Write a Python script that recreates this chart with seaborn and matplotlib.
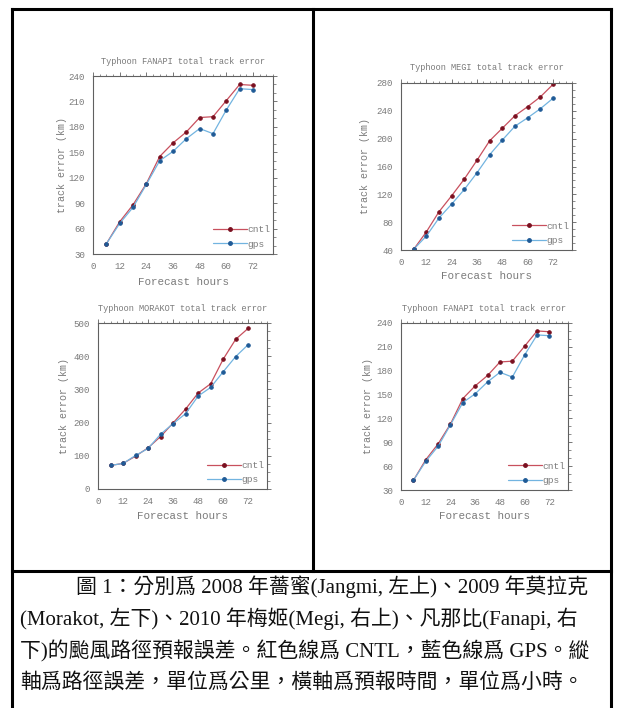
import matplotlib
matplotlib.use("Agg")
import matplotlib.pyplot as plt
import numpy as np
import pandas as pd
import seaborn as sns
from matplotlib.lines import Line2D
from matplotlib.ticker import MultipleLocator

# ---------------- data ----------------
hours = [6, 12, 18, 24, 30, 36, 42, 48, 54, 60, 66, 72]

fanapi_cntl = [42, 68, 88, 113, 145, 161, 174, 191, 192, 211, 230, 229]
fanapi_gps = [42, 66, 85, 112, 140, 151, 166, 178, 172, 200, 225, 224]

megi_cntl = [41, 66, 95, 118, 142, 169, 197, 215, 233, 246, 260, 278]
megi_gps = [41, 60, 86, 106, 127, 151, 177, 198, 218, 230, 243, 258]

morakot_cntl = [71, 77, 99, 124, 158, 199, 241, 289, 317, 391, 451, 484]
morakot_gps = [71, 77, 101, 122, 165, 197, 227, 280, 306, 353, 399, 435]

series_names = ["cntl", "gps"]
x_ticks = [0, 12, 24, 36, 48, 60, 72]

title_fanapi = "Typhoon FANAPI total track error"
title_megi = "Typhoon MEGI total track error"
title_morakot = "Typhoon MORAKOT total track error"
xlabel_text = "Forecast hours"
ylabel_text = "track error (km)"

caption_lines = [
    "圖 1：分別爲 2008 年薔蜜(Jangmi, 左上)、2009 年莫拉克",
    "(Morakot, 左下)、2010 年梅姬(Megi, 右上)、凡那比(Fanapi, 右",
    "下)的颱風路徑預報誤差。紅色線爲 CNTL，藍色線爲 GPS。縱",
    "軸爲路徑誤差，單位爲公里，橫軸爲預報時間，單位爲小時。",
]

# ---------------- style ----------------
sns.set_theme(style="white")
plt.rcParams["font.family"] = ["Liberation Mono", "DejaVu Sans"]

W, H = 617, 708
fig = plt.figure(figsize=(W / 100, H / 100), dpi=100)

line_colors = {"cntl": "#c8505e", "gps": "#72b4e0"}
marker_colors = {"cntl": "#7a1020", "gps": "#1f5a96"}
text_grey = "#7a7a7a"
spine_grey = "#606060"
MS = 2.5


def px_axes(l, t, r, b):
    return fig.add_axes([l / W, 1 - b / H, (r - l) / W, (b - t) / H])


def panel(ax, cntl, gps, title, ylim, ystep, yminor, title_y, xlab_y, ylab_x, leg_anchor):
    df = pd.DataFrame({
        "hour": hours * 2,
        "err": list(cntl) + list(gps),
        "run": ["cntl"] * len(hours) + ["gps"] * len(hours),
    })
    sns.lineplot(data=df, x="hour", y="err", hue="run", palette=line_colors,
                 marker="o", markersize=MS, linewidth=0.9, ax=ax, legend=False)
    for ln, name in zip(ax.lines, series_names):
        ln.set_markerfacecolor(marker_colors[name])
        ln.set_markeredgecolor(marker_colors[name])
    ax.set_xlim(0, 81)
    ax.set_ylim(*ylim)
    ax.set_xticks(x_ticks)
    ax.yaxis.set_major_locator(MultipleLocator(ystep))
    ax.xaxis.set_minor_locator(MultipleLocator(3))
    ax.yaxis.set_minor_locator(MultipleLocator(yminor))
    ax.tick_params(which="both", direction="out", top=True, right=True,
                   colors=spine_grey, labelcolor=text_grey, labelsize=6.6, pad=2.5)
    ax.tick_params(which="major", length=3.2, width=0.6)
    ax.tick_params(which="minor", length=1.8, width=0.5)
    for s in ax.spines.values():
        s.set_color(spine_grey)
        s.set_linewidth(0.8)
    ax.set_xlabel("")
    ax.set_ylabel("")
    ax.text(0.5, title_y, title, transform=ax.transAxes, ha="center", va="center",
            fontsize=6.2, color=text_grey)
    ax.text(0.5, xlab_y, xlabel_text, transform=ax.transAxes, ha="center", va="center",
            fontsize=7.8, color=text_grey)
    ax.text(ylab_x, 0.5, ylabel_text, transform=ax.transAxes, ha="center", va="center",
            rotation=90, fontsize=7.2, color=text_grey)
    handles = [Line2D([], [], color=line_colors[n], lw=0.9, marker="o", markersize=MS,
                      markerfacecolor=marker_colors[n], markeredgecolor=marker_colors[n])
               for n in series_names]
    ax.legend(handles, series_names, loc="lower right", bbox_to_anchor=leg_anchor,
              frameon=False, fontsize=6.8, labelcolor=text_grey, handlelength=3.6,
              handletextpad=0.0, labelspacing=0.55, borderaxespad=0, borderpad=0,
              numpoints=1)


ax1 = px_axes(93, 76, 273, 254)
panel(ax1, fanapi_cntl, fanapi_gps, title_fanapi, (30, 240), 30, 10,
      1.080, -0.156, -0.172, (0.985, 0.03))

ax2 = px_axes(401, 83, 572, 250)
panel(ax2, megi_cntl, megi_gps, title_megi, (40, 280), 40, 10,
      1.09, -0.156, -0.209, (0.985, 0.03))

ax3 = px_axes(98, 323, 267, 489)
panel(ax3, morakot_cntl, morakot_gps, title_morakot, (0, 500), 100, 25,
      1.088, -0.160, -0.199, (0.985, 0.03))

ax4 = px_axes(401, 323, 568, 490)
panel(ax4, fanapi_cntl, fanapi_gps, title_fanapi, (30, 240), 30, 10,
      1.088, -0.155, -0.197, (0.985, 0.03))

# ---------------- table borders ----------------
bx = fig.add_axes([0, 0, 1, 1], zorder=-1)
bx.set_xlim(0, W)
bx.set_ylim(H, 0)
bx.axis("off")
lw = 2.2
bx.plot([12, 12], [9, H + 5], color="black", lw=lw, solid_capstyle="projecting")
bx.plot([611, 611], [9, H + 5], color="black", lw=lw, solid_capstyle="projecting")
bx.plot([12, 611], [9, 9], color="black", lw=lw, solid_capstyle="projecting")
bx.plot([12, 611], [571, 571], color="black", lw=lw, solid_capstyle="projecting")
bx.plot([313, 313], [9, 571], color="black", lw=lw, solid_capstyle="projecting")

cap_font = ["Liberation Serif", "Noto Sans CJK TC"]
cap_x = [76, 20, 20, 20]
cap_y = [587, 619, 651, 683]
for txt, x, y in zip(caption_lines, cap_x, cap_y):
    bx.text(x, y, txt, ha="left", va="center", fontsize=15.0, family=cap_font,
            color="#111111")

fig.savefig("out.png", dpi=100)
